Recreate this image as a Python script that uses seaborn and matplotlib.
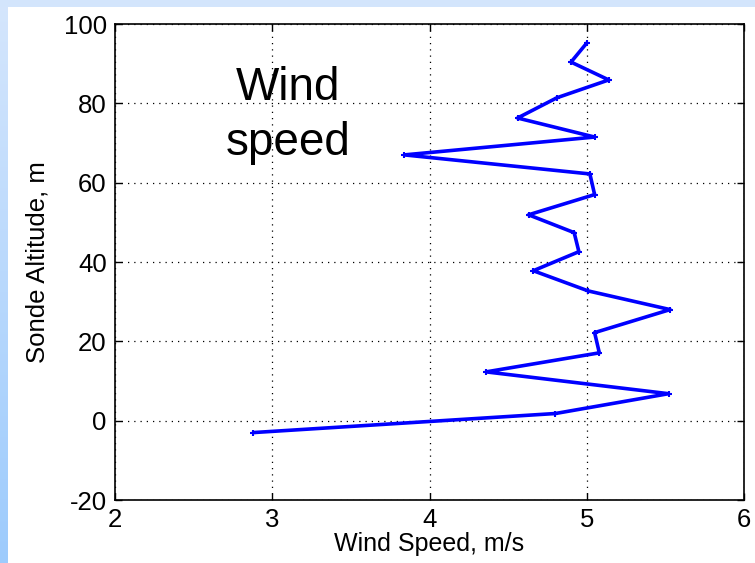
import numpy as np
import pandas as pd
import matplotlib
matplotlib.use("Agg")
import matplotlib.pyplot as plt
import seaborn as sns
from matplotlib.colors import LinearSegmentedColormap

# Data (profile from bottom to top)
wind_speed = [2.88, 4.80, 5.52, 4.36, 5.08, 5.05, 5.53, 5.01, 4.66, 4.95, 4.92,
              4.63, 5.05, 5.02, 3.84, 5.05, 4.56, 4.81, 5.14, 4.90, 5.00]
altitude = [-3.0, 1.8, 6.8, 12.3, 17.1, 22.2, 28.0, 32.7, 37.8, 42.6, 47.4,
            51.9, 57.0, 62.2, 67.0, 71.5, 76.3, 81.4, 85.9, 90.4, 95.2]
x_ticks = [2, 3, 4, 5, 6]
y_ticks = [-20, 0, 20, 40, 60, 80, 100]

df = pd.DataFrame({"speed": wind_speed, "alt": altitude})

sns.set_theme(style="white")
plt.rcParams['font.family'] = ['Liberation Sans', 'DejaVu Sans']
plt.rcParams['axes.unicode_minus'] = False

fig = plt.figure(figsize=(7.55, 5.63), dpi=100)
fig.patch.set_facecolor("white")

# slide background strips (left gradient + top band)
grad = np.linspace(0, 1, 256).reshape(-1, 1)
cmap = LinearSegmentedColormap.from_list("g", ["#d5e6fc", "#9dcbfd"])
bgax = fig.add_axes([0, 0, 8 / 755, 1])
bgax.imshow(grad, aspect="auto", cmap=cmap, extent=[0, 1, 0, 1], origin="upper")
bgax.axis("off")
topax = fig.add_axes([0, 1 - 7 / 563, 1, 7 / 563])
topax.set_facecolor("#d3e5fc")
topax.set_xticks([])
topax.set_yticks([])
for sp in topax.spines.values():
    sp.set_visible(False)

ax = fig.add_axes([115 / 755, (563 - 500) / 563, (744 - 115) / 755, (500 - 24) / 563])
ax.set_facecolor("white")
sns.lineplot(data=df, x="speed", y="alt", sort=False, estimator=None, ax=ax,
             color="#0000ff", linewidth=2.6, marker="+", markersize=5,
             markeredgewidth=1.5, markeredgecolor="#0000ff")

ax.set_xlim(2, 6)
ax.set_ylim(-20, 100)
ax.set_xticks(x_ticks)
ax.set_yticks(y_ticks)
ax.grid(True, linestyle=(0, (1, 4)), color="black", linewidth=0.9)
ax.tick_params(direction="in", length=5, width=1, labelsize=18.5, colors="black",
               top=True, right=True, bottom=True, left=True)
ax.tick_params(axis="x", pad=6)
ax.tick_params(axis="y", pad=6)
for sp in ax.spines.values():
    sp.set_color("black")
    sp.set_linewidth(1.2)
ax.set_xlabel("Wind Speed, m/s", fontsize=18, color="black", labelpad=0)
ax.set_ylabel("Sonde Altitude, m", fontsize=18.5, color="black", labelpad=10)

ax.text(3.10, 80.9, "Wind", fontsize=33, color="black", ha="center", va="baseline")
ax.text(3.10, 67.0, "speed", fontsize=33, color="black", ha="center", va="baseline")

fig.savefig("out.png", dpi=100)
